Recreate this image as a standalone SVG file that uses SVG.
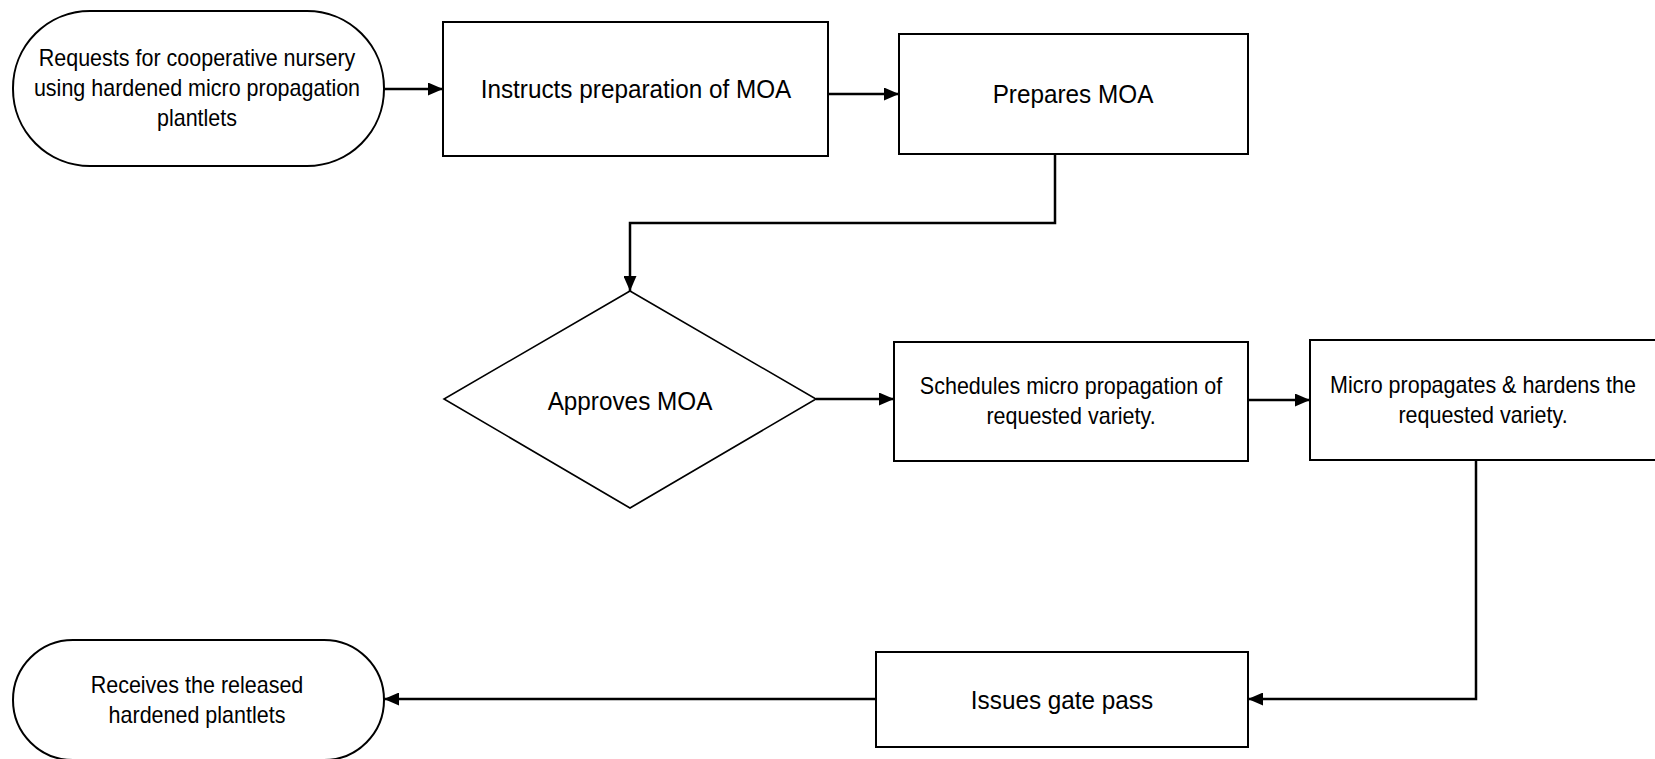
<svg xmlns="http://www.w3.org/2000/svg" width="1655" height="759" viewBox="0 0 1655 759">
<style>
.shape{fill:#fff;stroke:#000;stroke-width:2}
.dia{fill:#fff;stroke:#000;stroke-width:1.6}
.edge{fill:none;stroke:#000;stroke-width:2.5}
text{font-family:"Liberation Sans",Arial,sans-serif;fill:#000;text-anchor:middle}
.big{font-size:26px}
.sm{font-size:23px}
</style>
<defs>
<marker id="ah" viewBox="0 0 15 13" refX="15" refY="6.5" markerWidth="15" markerHeight="13" markerUnits="userSpaceOnUse" orient="auto">
<path d="M0,0 L15,6.5 L0,13 Z" fill="#000"/>
</marker>
</defs>
<g id="connectors">
<path class="edge" d="M384,89 H443" marker-end="url(#ah)"/>
<path class="edge" d="M828,94 H899" marker-end="url(#ah)"/>
<path class="edge" d="M1055,154 V223 H630 V291" marker-end="url(#ah)"/>
<path class="edge" d="M816,399 H894" marker-end="url(#ah)"/>
<path class="edge" d="M1248,400 H1310" marker-end="url(#ah)"/>
<path class="edge" d="M1476,460 V699 H1248" marker-end="url(#ah)"/>
<path class="edge" d="M876,699 H384" marker-end="url(#ah)"/>
</g>
<g id="start">
<rect class="shape" x="13" y="11" width="371" height="155" rx="77" ry="77"/>
<text class="sm" transform="matrix(0.935 0 0 1 197 0)" x="0" y="66">Requests for cooperative nursery</text>
<text class="sm" transform="matrix(0.935 0 0 1 197 0)" x="0" y="96">using hardened micro propagation</text>
<text class="sm" transform="matrix(0.935 0 0 1 197 0)" x="0" y="126">plantlets</text>
</g>
<g id="instructs">
<rect class="shape" x="443" y="22" width="385" height="134"/>
<text class="big" transform="matrix(0.935 0 0 1 636 0)" x="0" y="98">Instructs preparation of MOA</text>
</g>
<g id="prepares">
<rect class="shape" x="899" y="34" width="349" height="120"/>
<text class="big" transform="matrix(0.935 0 0 1 1073 0)" x="0" y="103">Prepares MOA</text>
</g>
<g id="approves">
<polygon class="dia" points="630,291 816,399 630,508 444,399"/>
<text class="big" transform="matrix(0.935 0 0 1 630 0)" x="0" y="410">Approves MOA</text>
</g>
<g id="schedules">
<rect class="shape" x="894" y="342" width="354" height="119"/>
<text class="sm" transform="matrix(0.935 0 0 1 1071 0)" x="0" y="394">Schedules micro propagation of</text>
<text class="sm" transform="matrix(0.935 0 0 1 1071 0)" x="0" y="424">requested variety.</text>
</g>
<g id="micro">
<rect class="shape" x="1310" y="340" width="350" height="120"/>
<text class="sm" transform="matrix(0.935 0 0 1 1483 0)" x="0" y="393">Micro propagates &amp; hardens the</text>
<text class="sm" transform="matrix(0.935 0 0 1 1483 0)" x="0" y="423">requested variety.</text>
</g>
<g id="gatepass">
<rect class="shape" x="876" y="652" width="372" height="95"/>
<text class="big" transform="matrix(0.935 0 0 1 1062 0)" x="0" y="709">Issues gate pass</text>
</g>
<g id="receives">
<rect class="shape" x="13" y="640" width="371" height="120" rx="60" ry="60"/>
<text class="sm" transform="matrix(0.935 0 0 1 197 0)" x="0" y="693">Receives the released</text>
<text class="sm" transform="matrix(0.935 0 0 1 197 0)" x="0" y="723">hardened plantlets</text>
</g>
</svg>
